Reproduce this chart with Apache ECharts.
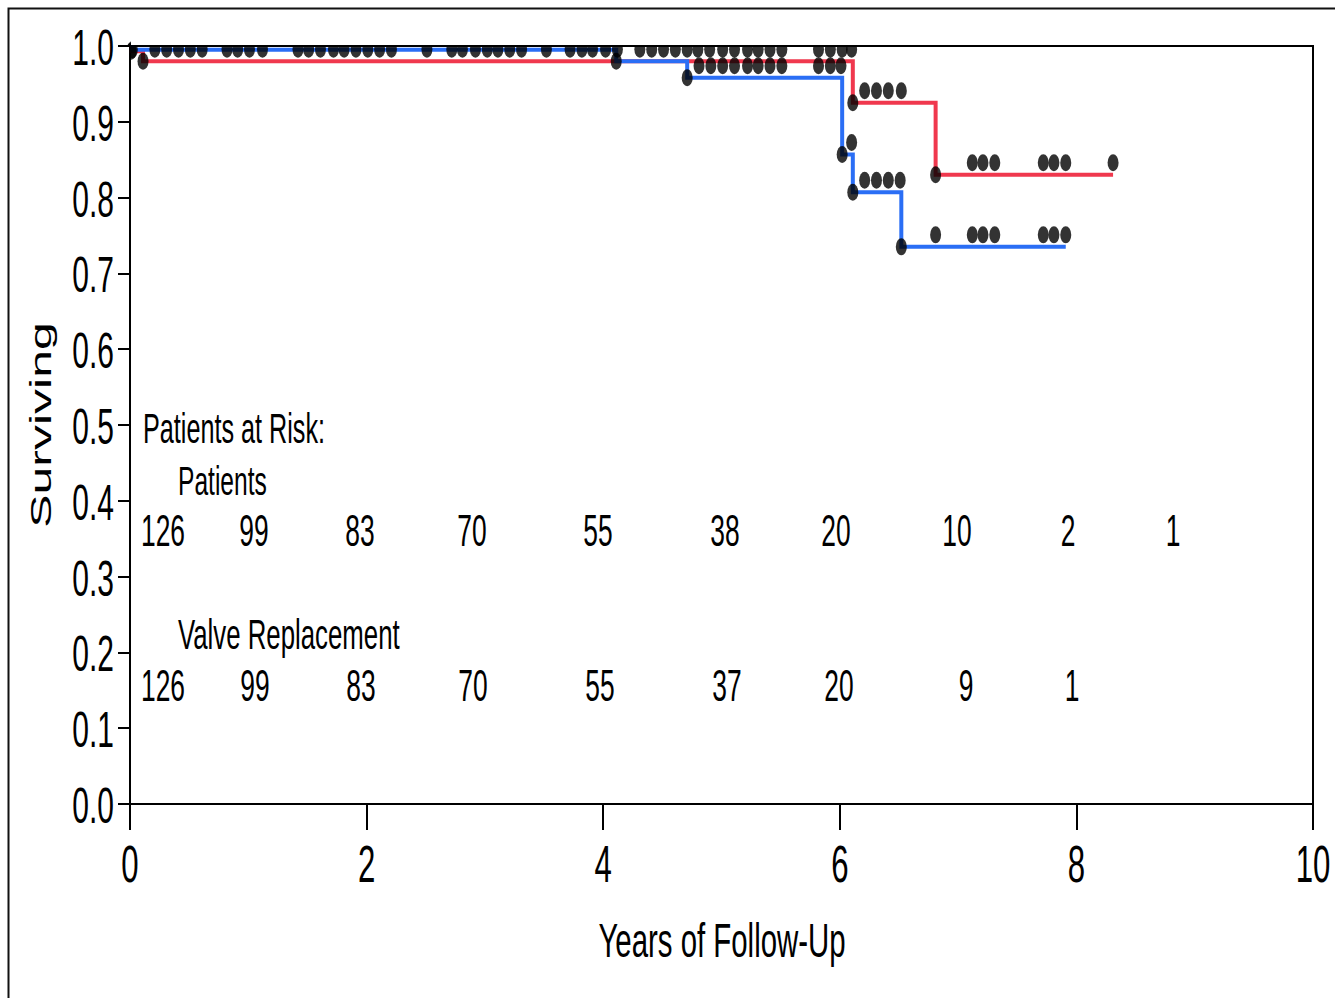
<!DOCTYPE html>
<html>
<head>
<meta charset="utf-8">
<script src="https://cdn.jsdelivr.net/npm/echarts@6/dist/echarts.min.js"></script>
<style>
  html, body { margin: 0; padding: 0; background: #fff; }
  #chart { width: 1335px; height: 998px; }
</style>
</head>
<body>
<div id="chart"></div>
<script>
// Kaplan–Meier curves: time of each step (years) and survival from that time on
const valveTimes = [0, 0.01, 0.11, 6.11, 6.81, 8.31];
const valveSurv  = [1.0, 0.993, 0.980, 0.925, 0.830, 0.830];
const patientTimes = [0, 0.02, 4.11, 4.71, 6.02, 6.11, 6.52, 7.91];
const patientSurv  = [1.0, 0.995, 0.980, 0.958, 0.857, 0.807, 0.735, 0.735];

// censored follow-up times (years)
const valveCensor = [
  0.21, 0.31, 0.41, 0.51, 0.61, 0.82, 0.91, 1.01, 1.12,
  1.42, 1.51, 1.61, 1.72, 1.81, 1.91, 2.01, 2.11, 2.21,
  2.51, 2.72, 2.81, 2.92, 3.02, 3.11, 3.21, 3.31, 3.52,
  3.72, 3.82, 3.91, 4.02, 4.12, 4.31, 4.41, 4.51, 4.61,
  4.71, 4.80, 4.90, 5.01, 5.11, 5.22, 5.31, 5.41, 5.51,
  5.82, 5.92, 6.02, 6.10,
  6.21, 6.31, 6.41, 6.52,
  7.12, 7.21, 7.31, 7.72, 7.81, 7.91, 8.31
];
const patientCensor = [
  4.81, 4.91, 5.01, 5.11, 5.22, 5.31, 5.41, 5.51, 5.82, 5.92, 6.01,
  6.10,
  6.21, 6.31, 6.41, 6.51,
  6.81, 7.12, 7.21, 7.31, 7.72, 7.81, 7.91
];

// numbers at risk
const riskPatients = [126, 99, 83, 70, 55, 38, 20, 10, 2, 1];
const riskValve    = [126, 99, 83, 70, 55, 37, 20, 9, 1];

// axis ticks
const xTickValues = [0, 2, 4, 6, 8, 10];
const xTickLabels = ['0', '2', '4', '6', '8', '10'];
const yTickValues = [0, 0.1, 0.2, 0.3, 0.4, 0.5, 0.6, 0.7, 0.8, 0.9, 1.0];
const yTickLabels = ['0.0', '0.1', '0.2', '0.3', '0.4', '0.5', '0.6', '0.7', '0.8', '0.9', '1.0'];

const RED = '#f0384e';
const BLUE = '#2a6ef5';
const FONT = "'Liberation Sans', Arial, Helvetica, sans-serif";
const SQUEEZE = 0.6;   // narrow lettering
const ELLIPSE = 'path://M0,10 A10,10 0 1,1 20,10 A10,10 0 1,1 0,10 Z';

function survivalAt(times, surv, t) {
  let v = surv[0];
  for (let i = 0; i < times.length; i++) {
    if (times[i] <= t) v = surv[i];
  }
  return v;
}
const pairs = (xs, ys) => xs.map((x, i) => [x, ys[i]]);
const stepMarks = (times, surv) => pairs(times.slice(1, -1), surv.slice(1, -1));
const censorMarks = (list, times, surv) => list.map(t => [t, survivalAt(times, surv, t)]);

const chart = echarts.init(document.getElementById('chart'), null, { renderer: 'svg' });

const markSeries = (data, offset) => ({
  type: 'scatter',
  data: data,
  symbol: ELLIPSE,
  symbolSize: [11, 17],
  symbolOffset: [0, offset],
  itemStyle: { color: '#000' },
  clip: true,
  silent: true,
  z: 4
});

chart.setOption({
  animation: false,
  backgroundColor: '#fff',
  grid: {
    left: 130, right: 22, top: 46, bottom: 194,
    show: true, borderColor: '#000', borderWidth: 2, containLabel: false
  },
  xAxis: {
    type: 'value', min: 0, max: 10, interval: 2,
    axisLine: { show: true, onZero: false, lineStyle: { color: '#000', width: 2 } },
    axisTick: { show: true, inside: false, length: 26, lineStyle: { color: '#000', width: 2 } },
    axisLabel: { show: false },
    splitLine: { show: false }
  },
  yAxis: {
    type: 'value', min: 0, max: 1, interval: 0.1,
    axisLine: { show: true, onZero: false, lineStyle: { color: '#000', width: 2 } },
    axisTick: { show: true, inside: false, length: 12, lineStyle: { color: '#000', width: 2 } },
    axisLabel: { show: false },
    splitLine: { show: false }
  },
  series: [
    {
      name: 'Valve Replacement', type: 'line', step: 'end',
      data: pairs(valveTimes, valveSurv),
      showSymbol: false, symbol: 'none',
      lineStyle: { color: RED, width: 4, join: 'miter', cap: 'butt' },
      z: 2
    },
    {
      name: 'Patients', type: 'line', step: 'end',
      data: pairs(patientTimes, patientSurv),
      showSymbol: false, symbol: 'none',
      lineStyle: { color: BLUE, width: 4, join: 'miter', cap: 'butt' },
      z: 3
    },
    markSeries(stepMarks(valveTimes, valveSurv), 0),
    markSeries(stepMarks(patientTimes, patientSurv), 0),
    markSeries(censorMarks(valveCensor, valveTimes, valveSurv), -12),
    markSeries(censorMarks(patientCensor, patientTimes, patientSurv), -12)
  ]
});

// text layer: narrow lettering placed from the axes' own scales
const px = (x, y) => chart.convertToPixel({ gridIndex: 0 }, [x, y]);
const txt = (text, x, y, size, align, extra) => Object.assign({
  type: 'text', x: x, y: y, scaleX: SQUEEZE, silent: true, z: 10,
  style: { text: text, fontFamily: FONT, fontSize: size, fill: '#000',
           align: align, verticalAlign: 'middle' }
}, extra || {});

const elements = [];

// outer frame
elements.push({
  type: 'rect', silent: true, z: 0,
  shape: { x: 8.5, y: 8.5, width: 1500, height: 1200 },
  style: { fill: 'none', stroke: '#111', lineWidth: 2 }
});

// plot window: symbols are cut off at the frame edges
const corner = px(0, 1);
const far = px(10, 0);
elements.push({
  type: 'rect', silent: true, z: 6,
  shape: { x: corner[0] + 1, y: 11, width: far[0] - corner[0] - 2, height: corner[1] - 12 },
  style: { fill: '#fff' }
});
elements.push({
  type: 'rect', silent: true, z: 6,
  shape: { x: corner[0] - 12, y: corner[1] + 1, width: 11, height: 24 },
  style: { fill: '#fff' }
});

yTickValues.forEach((v, i) => {
  const p = px(0, v);
  elements.push(txt(yTickLabels[i], p[0] - 16, p[1] + 2, 50, 'right'));
});
xTickValues.forEach((v, i) => {
  const p = px(v, 0);
  elements.push(txt(xTickLabels[i], p[0], p[1] + 60, 52, 'center'));
});

// axis titles
elements.push({
  type: 'text', x: 41, y: 425, rotation: Math.PI / 2, scaleY: SQUEEZE, silent: true, z: 10,
  style: { text: 'Surviving', fontFamily: FONT, fontSize: 50, fill: '#000',
           align: 'center', verticalAlign: 'middle' }
});
elements.push(txt('Years of Follow-Up', 722, 940, 49, 'center'));

// patients-at-risk table
const patientCols = [163, 254, 360, 472, 598, 725, 836, 957, 1068, 1173];
const valveCols   = [163, 255, 361, 473, 600, 727, 839, 966, 1072];
elements.push(txt('Patients at Risk:', 143, 428, 42, 'left'));
elements.push(txt('Patients', 178, 480, 41, 'left'));
riskPatients.forEach((n, i) => elements.push(txt(String(n), patientCols[i], 531, 44, 'center')));
elements.push(txt('Valve Replacement', 178, 634, 43, 'left'));
riskValve.forEach((n, i) => elements.push(txt(String(n), valveCols[i], 686, 44, 'center')));

chart.setOption({ graphic: { elements: elements } });
</script>
</body>
</html>
